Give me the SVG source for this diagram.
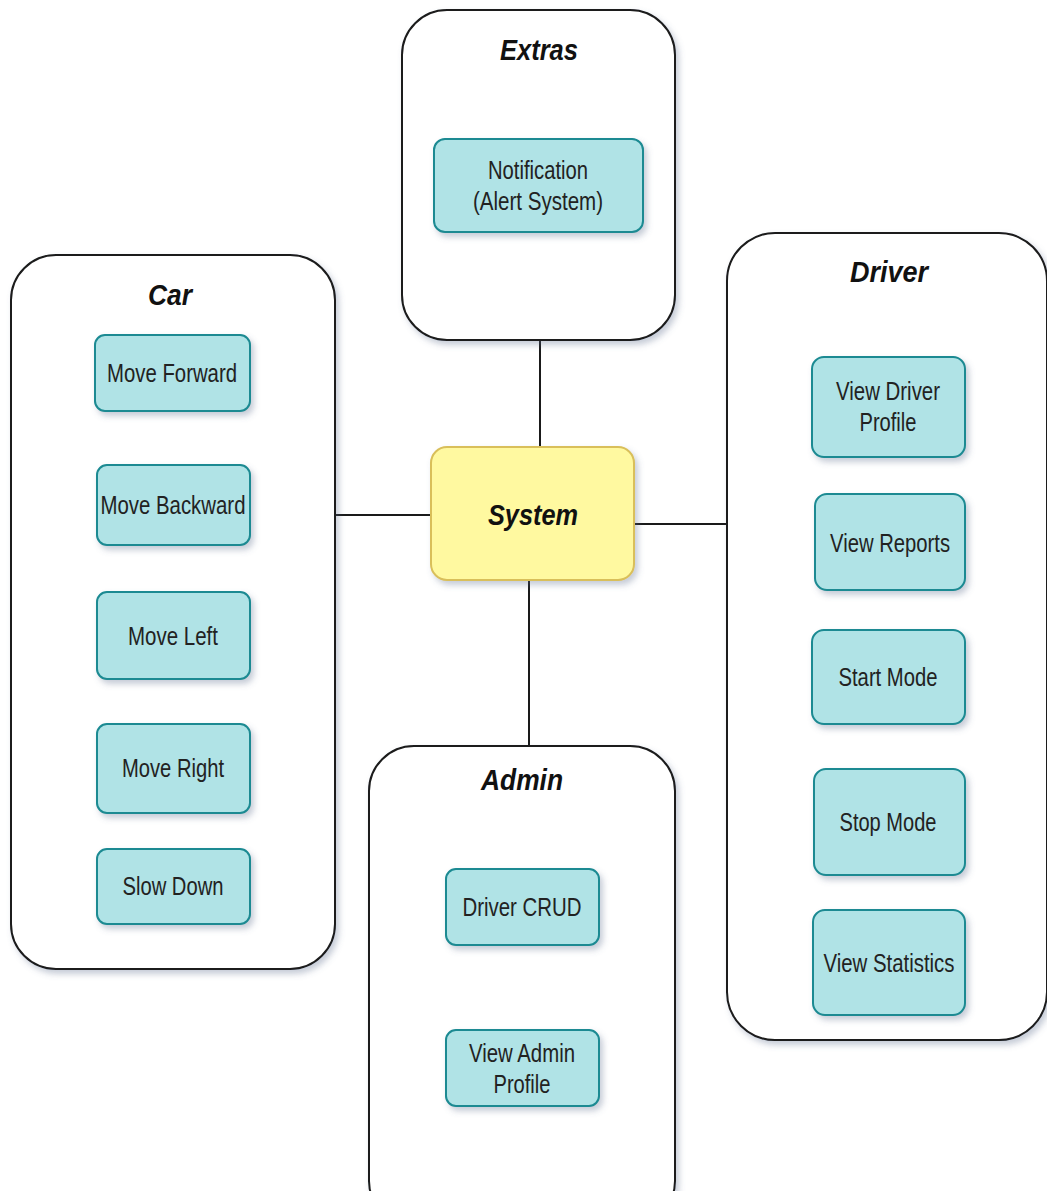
<svg xmlns="http://www.w3.org/2000/svg" width="1047" height="1191" viewBox="0 0 1047 1191">
  <defs>
    <filter id="shadow" x="-10%" y="-10%" width="130%" height="130%">
      <feDropShadow dx="3" dy="4" stdDeviation="3" flood-color="#5a6a8a" flood-opacity="0.35"/>
    </filter>
    <style>
      .group { fill: #ffffff; stroke: #1a1a1a; stroke-width: 2; filter: url(#shadow); }
      .item { fill: #b0e3e6; stroke: #1a8a92; stroke-width: 2; filter: url(#shadow); }
      .core { fill: #fff9a0; stroke: #d9bf5a; stroke-width: 2; filter: url(#shadow); }
      .title { font-family: "Liberation Sans", Arial, sans-serif; font-size: 29px; font-weight: bold; font-style: italic; fill: #111111; text-anchor: middle; }
      .label { font-family: "Liberation Sans", Arial, sans-serif; font-size: 25px; fill: #222222; text-anchor: middle; }
      .link { stroke: #1a1a1a; stroke-width: 2; fill: none; }
    </style>
  </defs>
  <rect width="1047" height="1191" fill="#ffffff"/>

  <!-- connectors -->
  <g id="connectors">
    <line class="link" x1="540" y1="340" x2="540" y2="447"/>
    <line class="link" x1="335" y1="515" x2="431" y2="515"/>
    <line class="link" x1="634" y1="524" x2="727" y2="524"/>
    <line class="link" x1="529" y1="580" x2="529" y2="746"/>
  </g>

  <!-- Extras -->
  <g id="extras">
    <rect class="group" x="402" y="10" width="273" height="330" rx="45" ry="45"/>
    <text class="title" x="539" y="60" textLength="78" lengthAdjust="spacingAndGlyphs">Extras</text>
  </g>
  <g id="notification">
    <rect class="item" x="434" y="139" width="209" height="93" rx="11" ry="11"/>
    <text class="label" x="538" y="179" textLength="100" lengthAdjust="spacingAndGlyphs">Notification</text>
    <text class="label" x="538" y="210" textLength="130" lengthAdjust="spacingAndGlyphs">(Alert System)</text>
  </g>

  <!-- Car -->
  <g id="car">
    <rect class="group" x="11" y="255" width="324" height="714" rx="45" ry="45"/>
    <text class="title" x="170" y="305" textLength="44" lengthAdjust="spacingAndGlyphs">Car</text>
  </g>
  <g id="move-forward">
    <rect class="item" x="95" y="335" width="155" height="76" rx="10" ry="10"/>
    <text class="label" x="172" y="382" textLength="130" lengthAdjust="spacingAndGlyphs">Move Forward</text>
  </g>
  <g id="move-backward">
    <rect class="item" x="97" y="465" width="153" height="80" rx="10" ry="10"/>
    <text class="label" x="173" y="514" textLength="145" lengthAdjust="spacingAndGlyphs">Move Backward</text>
  </g>
  <g id="move-left">
    <rect class="item" x="97" y="592" width="153" height="87" rx="10" ry="10"/>
    <text class="label" x="173" y="645" textLength="90" lengthAdjust="spacingAndGlyphs">Move Left</text>
  </g>
  <g id="move-right">
    <rect class="item" x="97" y="724" width="153" height="89" rx="10" ry="10"/>
    <text class="label" x="173" y="777" textLength="102" lengthAdjust="spacingAndGlyphs">Move Right</text>
  </g>
  <g id="slow-down">
    <rect class="item" x="97" y="849" width="153" height="75" rx="10" ry="10"/>
    <text class="label" x="173" y="895" textLength="101" lengthAdjust="spacingAndGlyphs">Slow Down</text>
  </g>

  <!-- System -->
  <g id="system">
    <rect class="core" x="431" y="447" width="203" height="133" rx="16" ry="16"/>
    <text class="title" x="533" y="525" textLength="90" lengthAdjust="spacingAndGlyphs">System</text>
  </g>

  <!-- Driver -->
  <g id="driver">
    <rect class="group" x="727" y="233" width="320" height="807" rx="48" ry="48"/>
    <text class="title" x="889" y="282" textLength="78" lengthAdjust="spacingAndGlyphs">Driver</text>
  </g>
  <g id="view-driver-profile">
    <rect class="item" x="812" y="357" width="153" height="100" rx="12" ry="12"/>
    <text class="label" x="888" y="400" textLength="104" lengthAdjust="spacingAndGlyphs">View Driver</text>
    <text class="label" x="888" y="431" textLength="57" lengthAdjust="spacingAndGlyphs">Profile</text>
  </g>
  <g id="view-reports">
    <rect class="item" x="815" y="494" width="150" height="96" rx="12" ry="12"/>
    <text class="label" x="890" y="552" textLength="120" lengthAdjust="spacingAndGlyphs">View Reports</text>
  </g>
  <g id="start-mode">
    <rect class="item" x="812" y="630" width="153" height="94" rx="12" ry="12"/>
    <text class="label" x="888" y="686" textLength="99" lengthAdjust="spacingAndGlyphs">Start Mode</text>
  </g>
  <g id="stop-mode">
    <rect class="item" x="814" y="769" width="151" height="106" rx="12" ry="12"/>
    <text class="label" x="888" y="831" textLength="97" lengthAdjust="spacingAndGlyphs">Stop Mode</text>
  </g>
  <g id="view-statistics">
    <rect class="item" x="813" y="910" width="152" height="105" rx="12" ry="12"/>
    <text class="label" x="889" y="972" textLength="131" lengthAdjust="spacingAndGlyphs">View Statistics</text>
  </g>

  <!-- Admin -->
  <g id="admin">
    <rect class="group" x="369" y="746" width="306" height="480" rx="45" ry="45"/>
    <text class="title" x="522" y="790" textLength="82" lengthAdjust="spacingAndGlyphs">Admin</text>
  </g>
  <g id="driver-crud">
    <rect class="item" x="446" y="869" width="153" height="76" rx="10" ry="10"/>
    <text class="label" x="522" y="916" textLength="119" lengthAdjust="spacingAndGlyphs">Driver CRUD</text>
  </g>
  <g id="view-admin-profile">
    <rect class="item" x="446" y="1030" width="153" height="76" rx="10" ry="10"/>
    <text class="label" x="522" y="1062" textLength="106" lengthAdjust="spacingAndGlyphs">View Admin</text>
    <text class="label" x="522" y="1093" textLength="57" lengthAdjust="spacingAndGlyphs">Profile</text>
  </g>
</svg>
